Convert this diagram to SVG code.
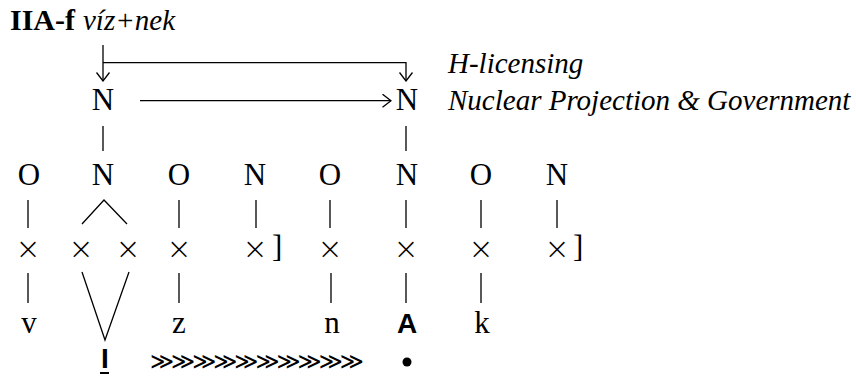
<svg xmlns="http://www.w3.org/2000/svg" width="856" height="376" viewBox="0 0 856 376">
<style>
.s{font-family:"Liberation Serif",serif;font-size:31px;fill:#000}
.c{text-anchor:middle}
.i{font-style:italic;font-size:29px}
.b{font-weight:bold;font-size:30px}
.sans{font-family:"Liberation Sans",sans-serif;font-weight:bold;font-size:28px;fill:#000;text-anchor:middle}
.x{font-family:"DejaVu Sans",sans-serif;font-weight:200;font-size:30px;fill:#000;text-anchor:middle}
.chev{font-family:"DejaVu Sans",sans-serif;font-size:23px;letter-spacing:-3px;fill:#000}
.ln{stroke:#000;stroke-width:1.3;fill:none}
</style>
<defs>
<marker id="ah" viewBox="0 0 10 14" refX="9.5" refY="7" markerWidth="10" markerHeight="14" markerUnits="userSpaceOnUse" orient="auto">
<path d="M1,0.5 L9.5,7 L1,13.5" fill="none" stroke="#000" stroke-width="1.3"/>
</marker>
</defs>
<g id="title">
<text class="s b" x="10" y="30">IIA-f</text>
<text class="s i" x="83" y="30">víz+nek</text>
</g>
<g id="labels">
<text class="s i" x="448" y="73">H-licensing</text>
<text class="s i" x="448" y="110">Nuclear Projection &amp; Government</text>
</g>
<g id="connectors">
<path class="ln" d="M103,45 V81" marker-end="url(#ah)"/>
<path class="ln" d="M103,62.7 H406 V81" marker-end="url(#ah)"/>
<path class="ln" d="M140,100.7 H391" marker-end="url(#ah)"/>
<path class="ln" d="M103,126 V151 M406,126 V151"/>
<path class="ln" d="M28,200 V228 M179,200 V228 M256,200 V228 M330,200 V228 M406,200 V228 M481,200 V228 M557,200 V228"/>
<path class="ln" d="M82,224 L104,200 L127,224"/>
<path class="ln" d="M28,273 V303 M179,273 V303 M331,273 V303 M406,273 V303 M481,273 V303"/>
<path class="ln" d="M82,272 L105,340 L129,272"/>
</g>
<g id="n-top-1"><text class="s c" x="103" y="110">N</text></g>
<g id="n-top-2"><text class="s c" x="407" y="110">N</text></g>
<g id="o1"><text class="s c" x="29" y="185">O</text></g>
<g id="n1"><text class="s c" x="103" y="185">N</text></g>
<g id="o2"><text class="s c" x="179" y="185">O</text></g>
<g id="n2"><text class="s c" x="255" y="185">N</text></g>
<g id="o3"><text class="s c" x="330" y="185">O</text></g>
<g id="n3"><text class="s c" x="407" y="185">N</text></g>
<g id="o4"><text class="s c" x="481" y="185">O</text></g>
<g id="n4"><text class="s c" x="557" y="185">N</text></g>
<g id="skeleton">
<text class="x" x="28" y="259">×</text>
<text class="x" x="81" y="259">×</text>
<text class="x" x="128" y="259">×</text>
<text class="x" x="179" y="259">×</text>
<text class="x" x="255" y="259">×</text>
<text class="s" x="272" y="257">]</text>
<text class="x" x="330" y="259">×</text>
<text class="x" x="406" y="259">×</text>
<text class="x" x="481" y="259">×</text>
<text class="x" x="557" y="259">×</text>
<text class="s" x="573" y="257">]</text>
</g>
<g id="segments">
<text class="s c" x="29" y="333">v</text>
<text class="s c" x="179" y="333">z</text>
<text class="s c" x="332" y="333">n</text>
<text class="sans" x="407" y="333">A</text>
<text class="s c" x="482" y="333">k</text>
</g>
<g id="bottom">
<text class="sans" x="105" y="368">I</text>
<path d="M100,373 H109" stroke="#000" stroke-width="2"/>
<text class="chev" x="150" y="369">≫≫≫≫≫≫≫≫≫≫</text>
<circle cx="407" cy="362" r="4.5" fill="#000"/>
</g>
</svg>
